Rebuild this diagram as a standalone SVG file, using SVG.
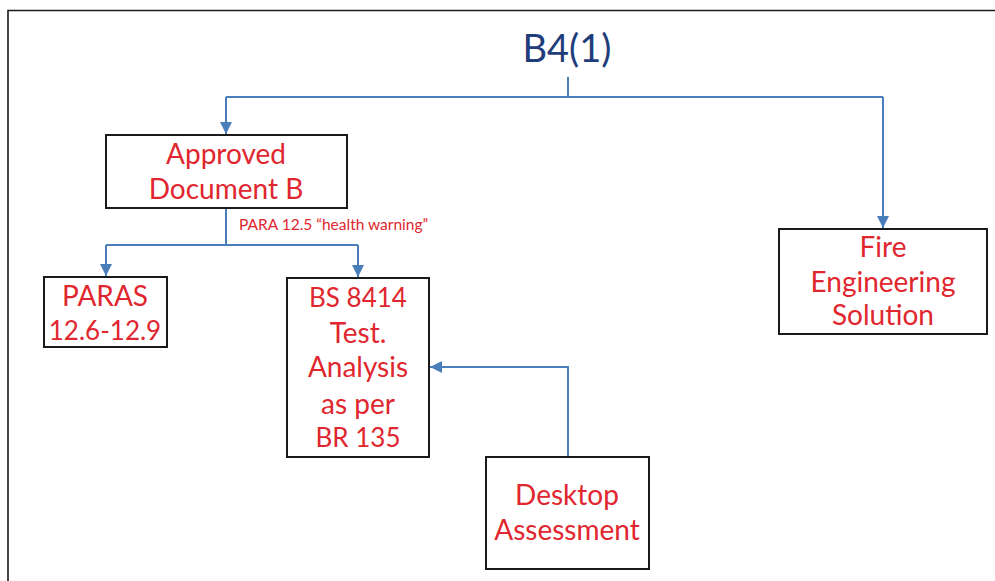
<svg xmlns="http://www.w3.org/2000/svg" width="995" height="581" viewBox="0 0 995 581">
<style>
.box{fill:#fff;stroke:#1a1a1a;stroke-width:2}
.t{font-family:Lato,"Open Sans","Liberation Sans",sans-serif;fill:#e0262e;text-anchor:middle;font-size:28px}
.n{font-size:26px}
.c{fill:none;stroke:#4a7ebb;stroke-width:2}
</style>
<defs>
<marker id="ah" viewBox="0 0 10 10" refX="10" refY="5" markerWidth="6" markerHeight="6" orient="auto" markerUnits="strokeWidth">
<path d="M0,0 L10,5 L0,10 Z" fill="#4a7ebb"/>
</marker>
</defs>
<rect x="0" y="0" width="995" height="581" fill="#fff"/>
<path d="M8,581 V10.5 H995" fill="none" stroke="#1a1a1a" stroke-width="1.6"/>
<g id="title">
<text x="567" y="62" font-family="Lato,'Open Sans','Liberation Sans',sans-serif" font-size="38" fill="#1f3d7a" text-anchor="middle">B4(1)</text>
</g>
<g id="connectors">
<path class="c" d="M568,77 V97"/>
<path class="c" d="M226,97 H883"/>
<path class="c" d="M226,97 V134" marker-end="url(#ah)"/>
<path class="c" d="M883,97 V228" marker-end="url(#ah)"/>
<path class="c" d="M226,208 V245"/>
<path class="c" d="M106,245 H358"/>
<path class="c" d="M106,245 V276" marker-end="url(#ah)"/>
<path class="c" d="M358,245 V277" marker-end="url(#ah)"/>
<path class="c" d="M568,457 V367 H430" marker-end="url(#ah)"/>
<text x="239" y="230" font-family="Lato,'Open Sans','Liberation Sans',sans-serif" font-size="15.5" fill="#e0262e">PARA 12.5 “health warning”</text>
</g>
<g id="approved">
<rect class="box" x="106" y="135" width="241" height="73"/>
<text class="t" x="226" y="164">Approved</text>
<text class="t" x="226" y="199">Document B</text>
</g>
<g id="fire">
<rect class="box" x="779" y="229" width="208" height="105"/>
<text class="t" x="883" y="257">Fire</text>
<text class="t" x="883" y="292">Engineering</text>
<text class="t" x="883" y="325">Solution</text>
</g>
<g id="paras">
<rect class="box" x="44" y="277" width="123" height="70"/>
<text class="t" x="105" y="306">PARAS</text>
<text class="t n" x="105" y="340">12.6-12.9</text>
</g>
<g id="bs8414">
<rect class="box" x="287" y="278" width="142" height="179"/>
<text class="t n" x="358" y="307">BS 8414</text>
<text class="t" x="358" y="343">Test.</text>
<text class="t" x="358" y="377">Analysis</text>
<text class="t" x="358" y="414">as per</text>
<text class="t n" x="358" y="447">BR 135</text>
</g>
<g id="desktop">
<rect class="box" x="486" y="457" width="163" height="112"/>
<text class="t" x="567" y="505">Desktop</text>
<text class="t" x="567" y="540">Assessment</text>
</g>
</svg>
